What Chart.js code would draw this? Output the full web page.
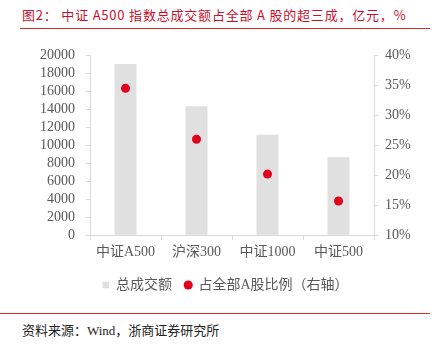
<!DOCTYPE html>
<html>
<head>
<meta charset="utf-8">
<script src="https://cdn.jsdelivr.net/npm/chart.js@4/dist/chart.umd.min.js"></script>
<style>
  html, body { margin: 0; padding: 0; background: #fff; }
  body { width: 435px; height: 346px; position: relative; overflow: hidden; }
  #titulo {
    position: absolute; left: 22px; top: 5px;
    font: 13px 'Noto Sans CJK SC', sans-serif; color: #c8102e;
    letter-spacing: 0.8px; white-space: nowrap;
  }
  #linhaTopo { position: absolute; left: 20px; top: 28px; width: 410px; height: 1px; background: #d42a2a; }
  #grafico { position: absolute; left: 0; top: 36px; width: 435px; height: 266px; }
  #linhaBase { position: absolute; left: 0; top: 313px; width: 430px; height: 1px; background: #d42a2a; }
  #fonte {
    position: absolute; left: 22px; top: 320px;
    font: 13px 'Liberation Serif', 'Noto Sans CJK SC', serif; color: #222; white-space: nowrap;
  }
</style>
</head>
<body>
<div id="titulo">图2： 中证 A500 指数总成交额占全部 A 股的超三成，亿元，%</div>
<div id="linhaTopo"></div>
<div id="grafico"><canvas id="cv"></canvas></div>
<div id="linhaBase"></div>
<div id="fonte">资料来源：Wind，浙商证券研究所</div>
<script>
const categorias = ['中证A500', '沪深300', '中证1000', '中证500'];
const totalVolume = [19050, 14350, 11180, 8680];   // 亿元
const proporcao = [34.5, 26.0, 20.2, 15.7];        // %

const fonteNum = "'Liberation Serif', 'Noto Sans CJK SC', serif";
const corEixo = '#d9d9d9';
const corTexto = '#595959';

new Chart(document.getElementById('cv'), {
  type: 'bar',
  data: {
    labels: categorias,
    datasets: [
      {
        label: '总成交额',
        data: totalVolume,
        backgroundColor: '#e0e0e0',
        barPercentage: 0.62,
        categoryPercentage: 0.5,
        yAxisID: 'y',
        pointStyle: 'rect',
        order: 2
      },
      {
        type: 'line',
        label: '占全部A股比例（右轴）',
        data: proporcao,
        showLine: false,
        pointRadius: 4.5,
        pointBackgroundColor: '#e0001b',
        pointBorderWidth: 0,
        backgroundColor: '#e0001b',
        borderColor: '#e0001b',
        pointStyle: 'circle',
        yAxisID: 'y1',
        order: 1
      }
    ]
  },
  options: {
    responsive: true,
    maintainAspectRatio: false,
    animation: false,
    layout: { padding: { left: 16, right: 0, top: 16, bottom: 0 } },
    plugins: {
      tooltip: { enabled: false },
      legend: {
        position: 'bottom',
        labels: {
          usePointStyle: true,
          boxWidth: 6.5,
          boxHeight: 6.5,
          padding: 13,
          color: corTexto,
          font: { family: fonteNum, size: 14 },
          sort: (a, b) => a.datasetIndex - b.datasetIndex
        }
      }
    },
    scales: {
      x: {
        grid: { drawOnChartArea: false, drawTicks: true, tickLength: 5, color: corEixo },
        border: { color: corEixo },
        ticks: { color: corTexto, padding: 4, font: { family: fonteNum, size: 14 }, maxRotation: 0 }
      },
      y: {
        position: 'left',
        min: 0, max: 20000,
        grid: { drawOnChartArea: false, drawTicks: true, tickLength: 4, color: corEixo },
        border: { color: corEixo },
        ticks: {
          stepSize: 2000, autoSkip: false, color: corTexto, padding: 11,
          font: { family: fonteNum, size: 14 },
          callback: function(v) { return String(v); }
        },
        afterFit: function(eixo) { eixo.width = 74; }
      },
      y1: {
        position: 'right',
        min: 10, max: 40,
        grid: { drawOnChartArea: false, drawTicks: true, tickLength: 4, color: corEixo },
        border: { color: corEixo },
        ticks: {
          stepSize: 5, autoSkip: false, color: corTexto, padding: 7,
          font: { family: fonteNum, size: 14 },
          callback: function(v) { return v + '%'; }
        },
        afterFit: function(eixo) { eixo.width = 61; }
      }
    }
  }
});
</script>
</body>
</html>
